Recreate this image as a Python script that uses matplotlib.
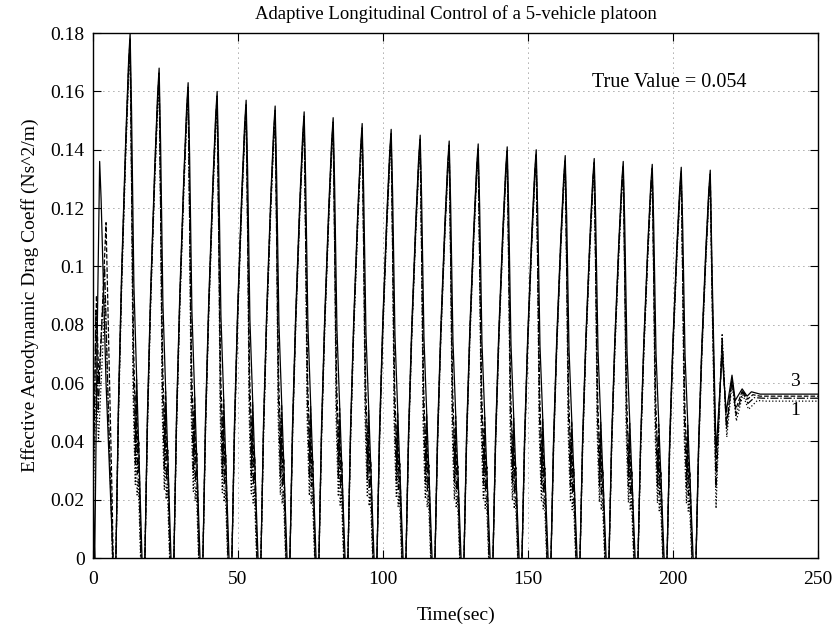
import matplotlib
matplotlib.use('Agg')
import matplotlib.pyplot as plt
import numpy as np

plt.rcParams['font.family'] = ['Liberation Serif', 'DejaVu Serif']
plt.rcParams['font.size'] = 14

# peak times and peak values of the parameter estimate
peak_t = [12.8, 22.8, 32.8, 42.8, 52.8, 62.8, 72.8, 82.8, 92.8, 102.8, 112.8,
          122.8, 132.8, 142.8, 152.8, 162.8, 172.8, 182.8, 192.8, 202.8, 212.8]
peak_v = [0.180, 0.168, 0.163, 0.160, 0.157, 0.155, 0.153, 0.151, 0.149, 0.147,
          0.145, 0.143, 0.142, 0.141, 0.140, 0.138, 0.137, 0.136, 0.135, 0.134, 0.133]

# shape of one cycle: time offset from the peak, value as fraction of the peak
cyc_dt = {
    '-':  [-4.9, -4.0, -2.9, -1.5, -0.5, 0.0, 0.5, 1.3, 2.5, 4.1, 4.6],
    '--': [-4.9, -4.0, -2.9, -1.5, -0.5, 0.0, 0.6, 1.2, 1.6, 1.9, 2.2, 2.6, 3.0, 3.8, 4.5],
    '-.': [-4.9, -4.0, -2.9, -1.5, -0.5, 0.0, 0.5, 1.1, 1.5, 1.8, 2.1, 2.5, 2.9, 3.7, 4.5],
    ':':  [-4.9, -4.0, -2.9, -1.5, -0.5, 0.0, 0.6, 1.0, 1.4, 1.8, 2.1, 2.4, 2.8, 3.6, 4.5],
}
cyc_fr = {
    '-':  [0.0, 0.30, 0.55, 0.80, 0.95, 1.00, 0.85, 0.52, 0.30, 0.0, -0.15],
    '--': [0.0, 0.29, 0.54, 0.79, 0.94, 0.99, 0.70, 0.40, 0.31, 0.22, 0.34, 0.20, 0.22, 0.0, -0.15],
    '-.': [0.0, 0.28, 0.53, 0.78, 0.93, 0.98, 0.72, 0.36, 0.26, 0.18, 0.31, 0.16, 0.19, 0.0, -0.15],
    ':':  [0.0, 0.27, 0.52, 0.77, 0.92, 0.97, 0.66, 0.32, 0.22, 0.14, 0.26, 0.12, 0.15, 0.0, -0.15],
}

# first seconds of the run
start_t = {
    '-':  [0.0, 0.3, 0.6, 1.5, 2.3, 2.8, 4.5, 6.9, 7.4],
    '--': [0.0, 0.5, 1.2, 2.0, 3.0, 4.5, 5.5, 6.6, 7.3],
    '-.': [0.0, 0.4, 1.0, 1.8, 2.6, 4.0, 5.2, 6.4, 7.2],
    ':':  [0.0, 0.5, 1.1, 1.9, 2.8, 4.2, 5.4, 6.5, 7.2],
}
start_v = {
    '-':  [0.045, 0.010, 0.000, 0.080, 0.136, 0.123, 0.060, 0.000, -0.020],
    '--': [0.020, 0.050, 0.090, 0.060, 0.080, 0.115, 0.070, 0.020, -0.020],
    '-.': [0.030, 0.045, 0.085, 0.050, 0.070, 0.100, 0.055, 0.015, -0.020],
    ':':  [0.015, 0.035, 0.060, 0.040, 0.060, 0.090, 0.045, 0.010, -0.020],
}

# convergence after the excitation stops
tail_t = {
    '-':  [213.4, 214.8, 216.9, 218.3, 220.3, 221.4, 223.8, 225.5, 227.0, 230.0, 250.0],
    '--': [213.4, 214.8, 216.9, 218.4, 220.3, 221.6, 223.9, 225.7, 227.5, 230.0, 250.0],
    '-.': [213.4, 214.8, 216.9, 218.4, 220.3, 221.7, 224.0, 225.8, 228.0, 231.0, 250.0],
    ':':  [213.4, 214.8, 216.9, 218.5, 220.3, 221.8, 224.0, 226.0, 229.0, 232.0, 250.0],
}
tail_v = {
    '-':  [0.100, 0.036, 0.070, 0.050, 0.0627, 0.054, 0.058, 0.0555, 0.0570, 0.0562, 0.0562],
    '--': [0.095, 0.030, 0.073, 0.046, 0.0615, 0.051, 0.0575, 0.0545, 0.0560, 0.0555, 0.0555],
    '-.': [0.092, 0.024, 0.075, 0.044, 0.0610, 0.049, 0.0570, 0.0530, 0.0550, 0.0548, 0.0548],
    ':':  [0.090, 0.017, 0.077, 0.0415, 0.0600, 0.047, 0.0560, 0.0510, 0.0540, 0.0538, 0.0538],
}

styles = ['-', '--', '-.', ':']

fig = plt.figure(figsize=(8.34, 6.37), dpi=100)
ax = fig.add_axes([0.1115, 0.124, 0.8695, 0.824])

for ls in styles:
    t = list(start_t[ls])
    v = list(start_v[ls])
    for k in range(len(peak_t)):
        last = (k == len(peak_t) - 1)
        for dt, fr in zip(cyc_dt[ls], cyc_fr[ls]):
            if last and dt > 0:
                break
            t.append(peak_t[k] + dt)
            v.append(fr * peak_v[k] if fr >= 0 else -0.02)
    t += tail_t[ls]
    v += tail_v[ls]
    ax.plot(t, v, color='black', linestyle=ls, linewidth=0.9)

ax.set_xlim(0, 250)
ax.set_ylim(0, 0.18)
ax.set_xticks([0, 50, 100, 150, 200, 250])
ax.set_yticks(np.arange(0, 0.181, 0.02))
ax.set_yticklabels(['0', '0.02', '0.04', '0.06', '0.08', '0.1', '0.12', '0.14', '0.16', '0.18'])
ax.grid(True, linestyle=(0, (1, 5)), color='#555555', linewidth=0.6)
ax.tick_params(direction='in', top=True, right=True, length=6)
ax.tick_params(axis='x', pad=9)
ax.tick_params(axis='y', pad=6)
for s in ax.spines.values():
    s.set_linewidth(1.0)

ax.set_title('Adaptive Longitudinal Control of a 5-vehicle platoon', fontsize=13.5, pad=10)
ax.set_xlabel('Time(sec)', labelpad=14)
ax.set_ylabel('Effective Aerodynamic Drag Coeff (Ns^2/m)', labelpad=8)

ax.text(172, 0.1615, 'True Value = 0.054', fontsize=14.5, va='baseline')
ax.text(242, 0.0605, '3', fontsize=14, ha='center', va='center')
ax.text(242, 0.0505, '1', fontsize=14, ha='center', va='center')

fig.savefig('out.png', dpi=100)
